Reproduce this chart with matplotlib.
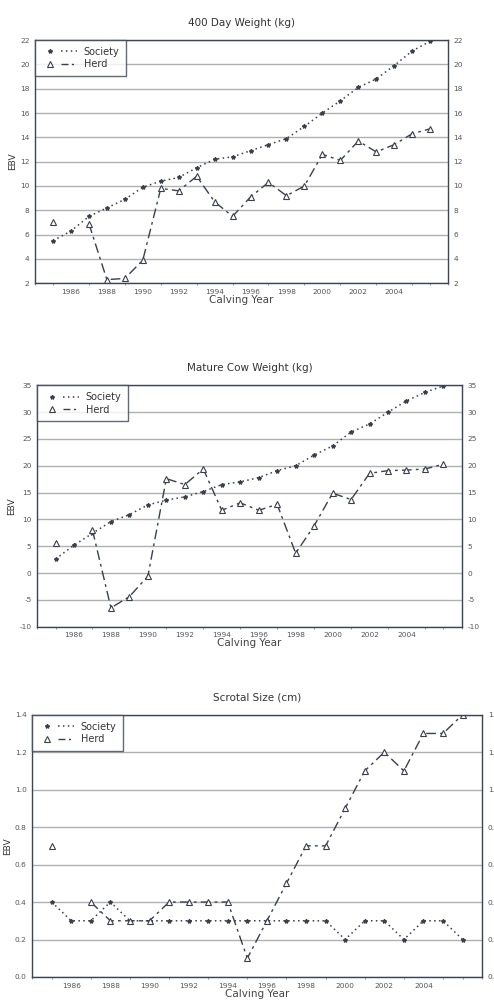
import numpy as np
import matplotlib
matplotlib.use("Agg")
import matplotlib.pyplot as plt
from matplotlib.ticker import MultipleLocator, FormatStrFormatter
from matplotlib.lines import Line2D
from matplotlib.legend_handler import HandlerTuple

years = np.arange(1985, 2007)
nan = np.nan

# 400 day weight (kg)
wt400_society = [5.5, 6.3, 7.5, 8.2, 8.9, 9.9, 10.4, 10.7, 11.5, 12.2, 12.4, 12.9,
                 13.4, 13.9, 14.9, 16.0, 17.0, 18.1, 18.8, 19.9, 21.1, 21.9]
wt400_herd = [7.0, nan, 6.9, 2.3, 2.4, 3.9, 9.8, 9.6, 10.8, 8.7, 7.5, 9.1,
              10.3, 9.2, 10.0, 12.6, 12.1, 13.7, 12.8, 13.4, 14.3, 14.7]

# mature cow weight (kg)
mcw_society = [2.6, 5.2, 7.4, 9.6, 10.9, 12.7, 13.6, 14.2, 15.2, 16.5, 17.0, 17.8,
               19.1, 20.0, 22.0, 23.7, 26.3, 27.8, 30.0, 32.1, 33.7, 34.9]
mcw_herd = [5.6, nan, 8.0, -6.5, -4.4, -0.6, 17.6, 16.5, 19.4, 11.7, 13.1, 11.7,
            12.8, 3.7, 8.8, 14.9, 13.7, 18.6, 19.1, 19.2, 19.4, 20.3]

# scrotal size (cm)
ss_society = [0.4, 0.3, 0.3, 0.4, 0.3, 0.3, 0.3, 0.3, 0.3, 0.3, 0.3, 0.3,
              0.3, 0.3, 0.3, 0.2, 0.3, 0.3, 0.2, 0.3, 0.3, 0.2]
ss_herd = [0.7, nan, 0.4, 0.3, 0.3, 0.3, 0.4, 0.4, 0.4, 0.4, 0.1, 0.3,
           0.5, 0.7, 0.7, 0.9, 1.1, 1.2, 1.1, 1.3, 1.3, 1.4]

xticks = list(range(1986, 2006, 2))

frame_col = "#3c4354"
line_col = "#3a3f4c"
grid_col = "#b0b0b0"
text_col = "#555555"

soc_ls = (0, (1, 2.2))
herd_ls = (0, (7, 3, 2, 3))

panels = [
    ("400 Day Weight (kg)", wt400_society, wt400_herd, (2, 22), 2,
     [0.071, 0.717, 0.836, 0.243], "%d"),
    ("Mature Cow Weight (kg)", mcw_society, mcw_herd, (-10, 35), 5,
     [0.075, 0.374, 0.860, 0.241], "%d"),
    ("Scrotal Size (cm)", ss_society, ss_herd, (0, 1.4), 0.2,
     [0.065, 0.024, 0.911, 0.262], "%.1f"),
]

fig = plt.figure(figsize=(4.94, 10.01), dpi=100)
fig.patch.set_facecolor("white")

for title, soc, herd, ylim, step, pos, fmt in panels:
    ax = fig.add_axes(pos)
    ax.plot(years, soc, linestyle=soc_ls, color=line_col, lw=1.1,
            marker="*", markersize=3.0)
    ax.plot(years, herd, linestyle=herd_ls, color=line_col, lw=1.0,
            marker="^", markersize=5, markerfacecolor="white",
            markeredgecolor=line_col, markeredgewidth=0.8)
    ax.set_xlim(1984, 2007)
    ax.set_ylim(*ylim)
    ax.yaxis.set_major_locator(MultipleLocator(step))
    ax.yaxis.set_major_formatter(FormatStrFormatter(fmt))
    ax.set_xticks(xticks)
    ax.xaxis.set_minor_locator(MultipleLocator(1))
    ax.grid(axis="y", color=grid_col, lw=1.0)
    ax.set_axisbelow(True)
    for sp in ax.spines.values():
        sp.set_color(frame_col)
        sp.set_linewidth(1.0)
    ax.tick_params(axis="both", labelsize=5.3, colors=text_col, length=0, pad=4)
    ax.tick_params(axis="x", which="minor", length=1.5, color="#888888")
    ax.tick_params(axis="y", right=True, labelright=True)
    ax.set_title(title, fontsize=7.5, color="#333333", pad=10)
    ax.set_ylabel("EBV", fontsize=6.5, color="#333333", labelpad=2)
    ax.set_xlabel("Calving Year", fontsize=7.5, color="#444444", labelpad=0)

    # legend: marker first, then line segment
    soc_m = Line2D([], [], ls="none", marker="*", markersize=3.0, color=line_col)
    soc_l = Line2D([], [], ls=soc_ls, lw=1.1, color=line_col)
    herd_m = Line2D([], [], ls="none", marker="^", markersize=4.5,
                    markerfacecolor="white", markeredgecolor=line_col,
                    markeredgewidth=0.8)
    herd_l = Line2D([], [], ls=(0, (5, 2.5, 1.5, 2.5)), lw=1.0, color=line_col)
    leg = ax.legend([(soc_m, soc_l), (herd_m, herd_l)], ["Society", "Herd"],
                    handler_map={tuple: HandlerTuple(ndivide=None, pad=0.4)},
                    loc="upper left", fontsize=7, frameon=True, fancybox=False,
                    borderaxespad=0.0, handlelength=3.6, handletextpad=0.7,
                    borderpad=0.7, labelspacing=0.25)
    leg.get_frame().set_edgecolor(frame_col)
    leg.get_frame().set_linewidth(1.0)
    for t in leg.get_texts():
        t.set_color("#333333")

fig.savefig("out.png", dpi=100)
